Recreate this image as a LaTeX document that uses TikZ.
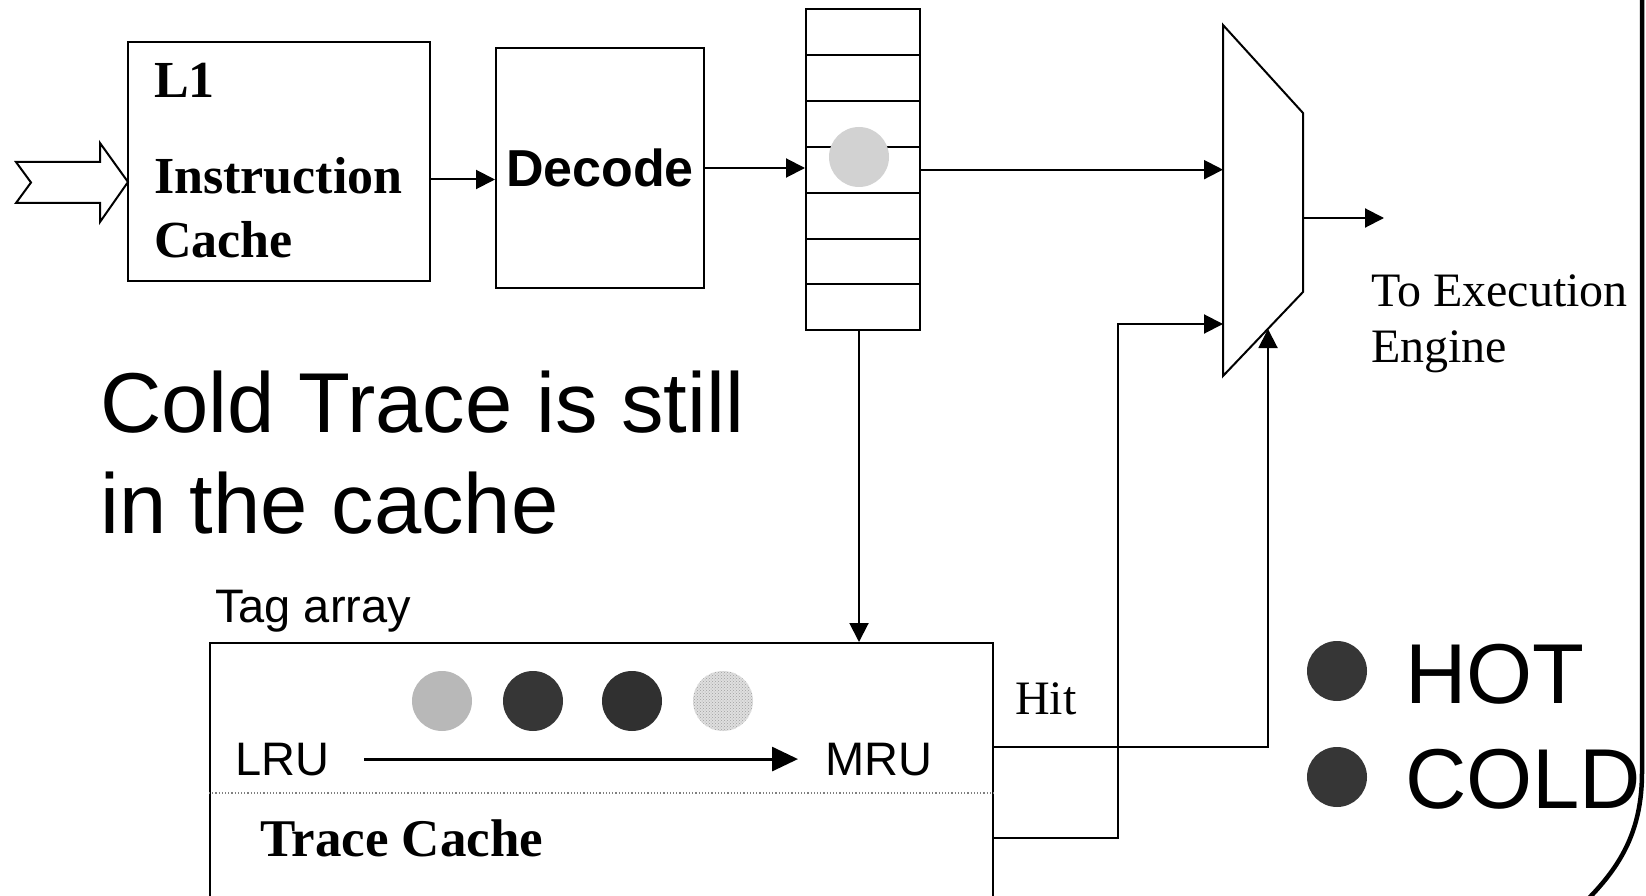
\documentclass[tikz,border=0pt]{standalone}
\usepackage{fontspec}
\setmainfont{Liberation Serif}
\newfontfamily\arialfont{Liberation Sans}
\usetikzlibrary{arrows.meta,patterns}

\begin{document}
\begin{tikzpicture}[
   x=1pt, y=-1pt,
   blk/.style={draw,line width=2pt,inner sep=0pt},
   cell/.style={draw,line width=2pt,minimum width=114pt,minimum height=45.9pt,inner sep=0pt},
   lbl/.style={inner sep=0pt,anchor=base west},
   dot/.style={circle,inner sep=0pt,minimum size=60pt},
   wire/.style={line width=2pt,-{Triangle[length=19pt,width=19pt]}},
   bigtxt/.style={lbl,font=\arialfont\fontsize{85}{100}\selectfont},
   sanstxt/.style={lbl,font=\arialfont\fontsize{47}{55}\selectfont},
   sertxt/.style={lbl,font=\fontsize{48}{56}\selectfont},
   boldtxt/.style={lbl,font=\fontsize{52}{60}\selectfont\bfseries},
]
\useasboundingbox (0,0) rectangle (1646,896);
\clip (0,0) rectangle (1646,896);

\node[blk,minimum width=302pt,minimum height=239pt] (icache) at (279,161.5) {};
\node[boldtxt] (l1) at (154,98) {L1};
\node[boldtxt] (instr) at (154,194) {Instruction};
\node[boldtxt] (cachelbl) at (154,258) {Cache};
\node[blk,minimum width=208pt,minimum height=240pt,
      font=\arialfont\bfseries\fontsize{52}{60}\selectfont] (decode) at (600,168) {Decode};

\foreach \i in {0,...,6}
   \node[cell] (q\i) at (863,{31.95+45.9*\i}) {};
\node[dot,fill=gray!35] (entry) at (859,157) {};

\draw[line width=2pt] (1223,25) -- (1303,113) -- (1303,292) -- (1223,376) -- cycle;
\coordinate (muxa) at (1223,170);
\coordinate (muxb) at (1223,324);
\coordinate (muxs) at (1268,329);
\coordinate (muxo) at (1303,218);
\coordinate (exec) at (1384,218);
\node[sertxt] (exec1) at (1371,306) {To Execution};
\node[sertxt] (exec2) at (1371,362) {Engine};

\draw[line width=2pt] (16,162) -- (100,162) -- (100,143) -- (128,182) -- (100,222)
   -- (100,203) -- (16,203) -- (31,182.5) -- cycle;

\node[bigtxt] (cold1) at (100,432) {Cold Trace is still};
\node[bigtxt] (cold2) at (100,533) {in the cache};

\node[sanstxt] (tagarr) at (215,622) {Tag array};
\node[blk,minimum width=783pt,minimum height=330pt,anchor=north] (tc) at (601.5,642) {};
\node[dot,fill=gray!56] (t1) at (442,701) {};
\node[dot,fill=black!79] (t2) at (533,701) {};
\node[dot,fill=black!81] (t3) at (632,701) {};
\node[dot,fill=gray!25,postaction={pattern=crosshatch dots,pattern color=gray!75}] (t4) at (723,701) {};
\node[sanstxt] (lru) at (235,775) {LRU};
\node[sanstxt] (mru) at (825,775) {MRU};
\draw[line width=3pt,-{Triangle[length=26pt,width=24pt]}] ([xshift=35pt]lru.east) -- ([xshift=-27pt]mru.west);
\draw[dotted,gray,line width=1.2pt] ([yshift=-151pt]tc.north west) -- ([yshift=-151pt]tc.north east);
\node[lbl,font=\fontsize{53}{60}\selectfont\bfseries] (tclbl) at (260,856) {Trace Cache};
\node[sertxt] (hit) at (1015,714) {Hit};

\node[dot,fill=black!79] (hotdot) at (1337,671) {};
\node[dot,fill=black!79] (colddot) at (1337,777) {};
\node[bigtxt] (hot) at (1405,703) {HOT};
\node[bigtxt] (cold) at (1405,808) {COLD};

\draw[wire] ([yshift=-18pt]icache.east) -- ([yshift=-18pt]icache.east -| decode.west);
\draw[wire] (decode.east) -- (decode.east -| q3.west);
\draw[wire] (q3.east) -- (q3.east -| muxa);
\draw[wire] (muxo) -- (exec);
\draw[wire] ([xshift=-4pt]q6.south) -- ([xshift=-4pt]q6.south |- tc.north);
\draw[wire] ([yshift=-105pt]tc.north east) -| (muxs);
\draw[wire] ([yshift=-196pt]tc.north east) -- ++(124,0) |- (muxb);

\draw[line width=4.5pt] (1642,-10) -- (1642,772) .. controls (1642,832) and (1620,868) .. (1582,905);
\end{tikzpicture}
\end{document}
